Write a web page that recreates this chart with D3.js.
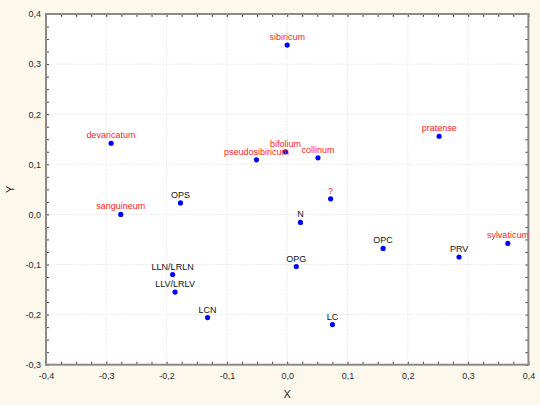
<!DOCTYPE html>
<html>
<head>
<meta charset="utf-8">
<script src="https://cdn.jsdelivr.net/npm/d3@7"></script>
<style>
html,body{margin:0;padding:0;background:#fdf8ec;}
svg{display:block;}
</style>
</head>
<body>
<svg id="chart" width="540" height="405"></svg>
<script>
const labels = ["sibiricum","devaricatum","pratense","bifolium","pseudosibiricum","collinum","OPS","?","sanguineum","N","OPC","sylvaticum","PRV","LLN/LRLN","OPG","LLV/LRLV","LCN","LC"];
const xs = [0.000,-0.292,0.252,-0.003,-0.051,0.051,-0.177,0.072,-0.276,0.022,0.159,0.366,0.285,-0.190,0.015,-0.186,-0.132,0.075];
const ys = [0.338,0.142,0.156,0.125,0.109,0.113,0.023,0.031,0.000,-0.016,-0.068,-0.058,-0.085,-0.120,-0.104,-0.155,-0.206,-0.220];
const isSpecies = [true,true,true,true,true,true,false,true,true,false,false,true,false,false,false,false,false,false];
const xTicks = [-0.4,-0.3,-0.2,-0.1,0.0,0.1,0.2,0.3,0.4];
const yTicks = [-0.3,-0.2,-0.1,0.0,0.1,0.2,0.3,0.4];

const svg = d3.select("#chart");
const L = 46, R = 528.4, T = 14, B = 364.7;
const FONT = "Liberation Sans, Arial, sans-serif";
const x = d3.scaleLinear().domain([-0.4,0.4]).range([L,R]);
const y = d3.scaleLinear().domain([-0.3,0.4]).range([B,T]);
const fmt = v => d3.format(".1f")(v).replace(".", ",").replace("−","-");

svg.append("rect").attr("x",L).attr("y",T).attr("width",R-L).attr("height",B-T).attr("fill","#fff");

// grid
const g = svg.append("g");
g.selectAll(".gx").data(xTicks.slice(1,-1)).join("line")
  .attr("x1",d=>x(d)).attr("x2",d=>x(d)).attr("y1",T).attr("y2",B)
  .attr("stroke","#d8d8d8").attr("stroke-width",0.8).attr("stroke-dasharray","1,1.5");
g.selectAll(".gy").data(yTicks.slice(1,-1)).join("line")
  .attr("y1",d=>y(d)).attr("y2",d=>y(d)).attr("x1",L).attr("x2",R)
  .attr("stroke","#d8d8d8").attr("stroke-width",0.8).attr("stroke-dasharray","1,1.5");

// minor ticks via axes (inward)
const xMinor = d3.range(-0.4,0.4001,0.025);
const yMinor = d3.range(-0.3,0.4001,0.025);
const axStyle = sel => { sel.select(".domain").remove(); sel.selectAll("line").attr("stroke","#444"); sel.selectAll("text").remove(); };
svg.append("g").attr("transform",`translate(0,${B})`).call(d3.axisBottom(x).tickValues(xMinor).tickSizeInner(-3).tickSizeOuter(0)).call(axStyle);
svg.append("g").attr("transform",`translate(0,${T})`).call(d3.axisTop(x).tickValues(xMinor).tickSizeInner(-3).tickSizeOuter(0)).call(axStyle);
svg.append("g").attr("transform",`translate(${L},0)`).call(d3.axisLeft(y).tickValues(yMinor).tickSizeInner(-3).tickSizeOuter(0)).call(axStyle);
svg.append("g").attr("transform",`translate(${R},0)`).call(d3.axisRight(y).tickValues(yMinor).tickSizeInner(-3).tickSizeOuter(0)).call(axStyle);

// tick labels via axes
const lblStyle = sel => { sel.select(".domain").remove(); sel.selectAll("line").remove();
  sel.selectAll("text").attr("fill","#2a2a2a").attr("font-family",FONT).attr("font-size","9px"); };
svg.append("g").attr("transform",`translate(0,${B})`).call(d3.axisBottom(x).tickValues(xTicks).tickFormat(fmt).tickSize(0).tickPadding(8)).call(lblStyle);
svg.append("g").attr("transform",`translate(${L},0)`).call(d3.axisLeft(y).tickValues(yTicks).tickFormat(fmt).tickSize(0).tickPadding(5)).call(lblStyle);

// frame
svg.append("rect").attr("x",L).attr("y",T).attr("width",R-L).attr("height",B-T)
  .attr("fill","none").attr("stroke","#8a8a8a").attr("stroke-width",2);

// axis titles
svg.append("text").attr("x",(L+R)/2).attr("y",397.5).attr("text-anchor","middle")
  .attr("font-family",FONT).attr("font-size","11px").attr("fill","#222").text("X");
svg.append("text").attr("transform",`translate(13.5,${(T+B)/2}) rotate(-90)`).attr("text-anchor","middle")
  .attr("font-family",FONT).attr("font-size","11px").attr("fill","#222").text("Y");

// points
const data = labels.map((l,i)=>({l, x:xs[i], y:ys[i], sp:isSpecies[i]}));
svg.append("g").selectAll("circle").data(data).join("circle")
  .attr("cx",d=>x(d.x)).attr("cy",d=>y(d.y)).attr("r",2.6).attr("fill","#0000ff");
svg.append("g").selectAll("text").data(data).join("text")
  .attr("x",d=>x(d.x)).attr("y",d=>y(d.y)-5).attr("text-anchor","middle")
  .attr("font-family",FONT).attr("font-size","9px")
  .attr("fill",d=>d.sp?"#ff1a1a":"#111").text(d=>d.l);
</script>
</body>
</html>
